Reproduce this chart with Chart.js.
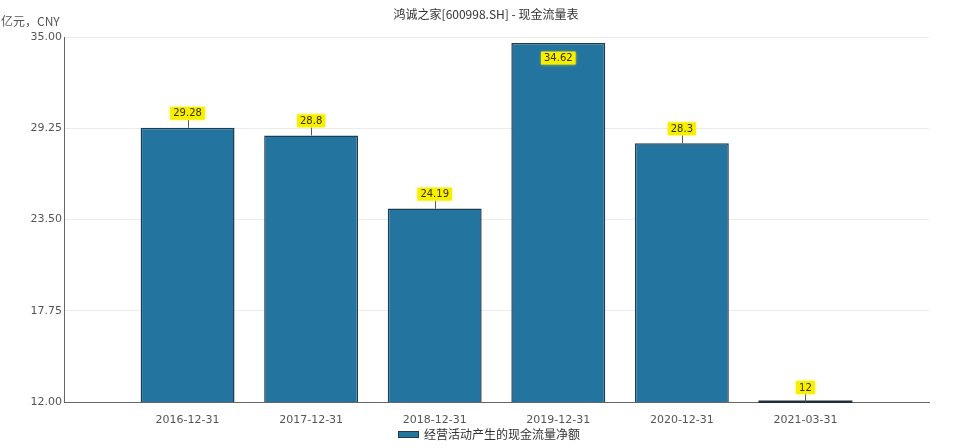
<!DOCTYPE html>
<html>
<head>
<meta charset="utf-8">
<style>
  html, body { margin: 0; padding: 0; background: #ffffff; }
  #wrap { width: 962px; height: 448px; position: relative; }
  canvas { display: block; }
</style>
<script src="https://cdn.jsdelivr.net/npm/chart.js@4.4.1/dist/chart.umd.min.js"></script>
</head>
<body>
<div id="wrap"><canvas id="c" width="962" height="448"></canvas></div>
<script>
// ---- data ----
const titleText = '鸿诚之家[600998.SH] - 现金流量表';
const unitText = '亿元，CNY';
const seriesName = '经营活动产生的现金流量净额';
const categories = ['2016-12-31', '2017-12-31', '2018-12-31', '2019-12-31', '2020-12-31', '2021-03-31'];
const values = [29.28, 28.8, 24.19, 34.62, 28.3, 12];
const valueLabels = ['29.28', '28.8', '24.19', '34.62', '28.3', '12'];
const yTicks = [12, 17.75, 23.5, 29.25, 35];

const CJK = "'Noto Sans CJK SC', 'Noto Sans', sans-serif";
const NUM = "'DejaVu Sans', 'Liberation Sans', sans-serif";
const barFill = '#2474a0';
const barBorder = '#1d3d55';

const decorPlugin = {
  id: 'decor',
  afterDraw(chart) {
    const ctx = chart.ctx;
    const xs = chart.scales.x, ys = chart.scales.y;
    const meta = chart.getDatasetMeta(0);
    const refW = meta.data[0].width;
    ctx.save();
    // zero-height bars: outline lying on the base line
    values.forEach((v, i) => {
      if (v <= yTicks[0]) {
        const cx = xs.getPixelForValue(i);
        const by = ys.getPixelForValue(yTicks[0]);
        ctx.fillStyle = '#222f38';
        ctx.fillRect(cx - refW / 2, by - 1.5, refW, 2.5);
      }
    });
    // title
    ctx.fillStyle = '#333333';
    ctx.font = '12px ' + CJK;
    ctx.textAlign = 'center';
    ctx.textBaseline = 'middle';
    ctx.fillText(titleText, 486, 14);
    // unit
    ctx.fillStyle = '#555555';
    ctx.textAlign = 'left';
    ctx.fillText(unitText, 1, 21);
    // legend
    ctx.fillStyle = barFill;
    ctx.fillRect(398, 431, 21, 7);
    ctx.strokeStyle = barBorder;
    ctx.lineWidth = 1;
    ctx.strokeRect(398.5, 431.5, 20, 6);
    ctx.fillStyle = '#333333';
    ctx.font = '12px ' + CJK;
    ctx.fillText(seriesName, 424, 434);
    // value labels
    const area = chart.chartArea;
    ctx.font = '10px ' + NUM;
    ctx.textAlign = 'center';
    ctx.textBaseline = 'middle';
    values.forEach((v, i) => {
      const txt = valueLabels[i];
      const cx = xs.getPixelForValue(i);
      const top = ys.getPixelForValue(v);
      const w = ctx.measureText(txt).width + 6;
      const h = 13;
      let cy;
      let inside = false;
      if (top - 8 - h < area.top) {
        inside = true;
        cy = top + 15;
      } else {
        cy = top - 8 - h / 2;
      }
      if (!inside) {
        ctx.strokeStyle = '#4a5a66';
        ctx.lineWidth = 1;
        ctx.beginPath();
        ctx.moveTo(Math.round(cx) + 0.5, cy + h / 2);
        ctx.lineTo(Math.round(cx) + 0.5, top);
        ctx.stroke();
      }
      ctx.shadowColor = 'rgba(250,240,0,0.8)';
      ctx.shadowBlur = 3;
      ctx.fillStyle = '#f7ef00';
      ctx.fillRect(cx - w / 2, cy - h / 2, w, h);
      ctx.shadowBlur = 0;
      ctx.fillStyle = '#3a3000';
      ctx.fillText(txt, cx, cy + 0.5);
    });
    ctx.restore();
  }
};

new Chart(document.getElementById('c'), {
  type: 'bar',
  data: {
    datasets: [{
      label: seriesName,
      data: values.map((v, i) => ({ x: i, y: v })),
      backgroundColor: barFill,
      borderColor: barBorder,
      borderWidth: 1.5,
      borderSkipped: false,
      barPercentage: 0.76,
      categoryPercentage: 1
    }]
  },
  options: {
    responsive: false,
    animation: false,
    devicePixelRatio: 1,
    layout: { padding: { left: 0, top: 37, right: 33, bottom: 0 } },
    plugins: {
      legend: { display: false },
      title: { display: false },
      tooltip: { enabled: false }
    },
    scales: {
      x: {
        type: 'linear',
        offset: false,
        min: -1,
        max: 6,
        afterBuildTicks(scale) { scale.ticks = categories.map((c, i) => ({ value: i })); },
        afterFit(scale) { scale.height = 46; },
        grid: { display: false, offset: false },
        border: { display: true, color: '#666666', width: 1 },
        ticks: {
          color: '#555555',
          font: { size: 11, family: NUM },
          padding: 4,
          maxRotation: 0,
          autoSkip: false,
          callback: (v) => categories[v] !== undefined ? categories[v] : ''
        }
      },
      y: {
        min: 12,
        max: 35,
        afterBuildTicks(scale) { scale.ticks = yTicks.map(v => ({ value: v })); },
        afterFit(scale) { scale.width = 64; },
        grid: { color: '#ececec', drawTicks: false, lineWidth: 1 },
        border: { display: true, color: '#666666', width: 1 },
        ticks: {
          color: '#555555',
          font: { size: 11, family: NUM },
          padding: 2,
          callback: (v) => Number(v).toFixed(2)
        }
      }
    }
  },
  plugins: [decorPlugin]
});
</script>
</body>
</html>
